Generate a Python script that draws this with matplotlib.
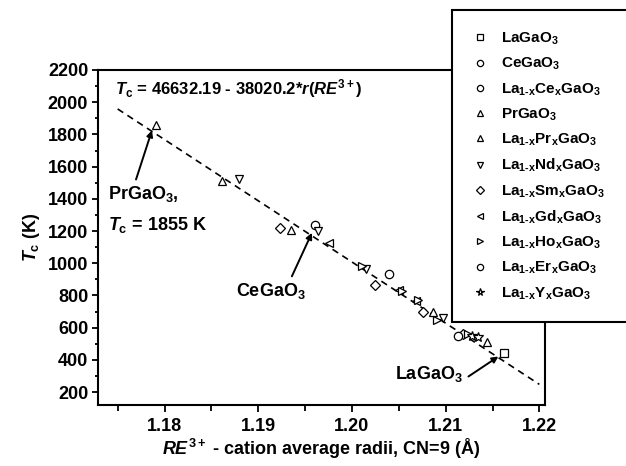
import matplotlib.pyplot as plt
from matplotlib.ticker import MultipleLocator

plt.rcParams['font.family'] = ['Liberation Sans', 'DejaVu Sans']
plt.rcParams['font.weight'] = 'bold'
plt.rcParams['axes.labelweight'] = 'bold'
plt.rcParams['mathtext.fontset'] = 'custom'
plt.rcParams['mathtext.rm'] = 'Liberation Sans:bold'
plt.rcParams['mathtext.it'] = 'Liberation Sans:italic:bold'
plt.rcParams['mathtext.bf'] = 'Liberation Sans:bold'

# values: radius (A), Tc (K)
la_r = [1.2162]
la_t = [443]
ce_r = [1.1961]
ce_t = [1240]
lace_r = [1.2040]
lace_t = [936]
pr_r = [1.1791]
pr_t = [1860]
lapr_r = [1.1861, 1.1935, 1.2086, 1.2144]
lapr_t = [1510, 1209, 697, 513]
land_r = [1.1880, 1.1964, 1.2015, 1.2097]
land_t = [1525, 1199, 965, 660]
lasm_r = [1.1923, 1.2025, 1.2076, 1.2118]
lasm_t = [1220, 867, 700, 563]
lagd_r = [1.1976, 1.2050, 1.2068]
lagd_t = [1127, 833, 768]
laho_r = [1.2011, 1.2053, 1.2071, 1.2091, 1.2124]
laho_t = [985, 826, 770, 650, 563]
laer_r = [1.2113]
laer_t = [550]
lay_r = [1.2128, 1.2134]
lay_t = [548, 541]

fit_r = [1.175, 1.220]
fit_t = [1958, 248]

sub = r'$_{\mathrm{1\text{-}x}}$'
subx = r'$_\mathrm{x}$'
series = [
    (la_r, la_t, 's', r'LaGaO$_3$'),
    (ce_r, ce_t, 'o', r'CeGaO$_3$'),
    (lace_r, lace_t, 'o', 'La' + sub + 'Ce' + subx + r'GaO$_3$'),
    (pr_r, pr_t, '^', r'PrGaO$_3$'),
    (lapr_r, lapr_t, '^', 'La' + sub + 'Pr' + subx + r'GaO$_3$'),
    (land_r, land_t, 'v', 'La' + sub + 'Nd' + subx + r'GaO$_3$'),
    (lasm_r, lasm_t, 'D', 'La' + sub + 'Sm' + subx + r'GaO$_3$'),
    (lagd_r, lagd_t, '<', 'La' + sub + 'Gd' + subx + r'GaO$_3$'),
    (laho_r, laho_t, '>', 'La' + sub + 'Ho' + subx + r'GaO$_3$'),
    (laer_r, laer_t, 'o', 'La' + sub + 'Er' + subx + r'GaO$_3$'),
    (lay_r, lay_t, '*', 'La' + sub + 'Y' + subx + r'GaO$_3$'),
]

fig = plt.figure(figsize=(6.26, 4.66), dpi=100)
ax = fig.add_axes([0.1565, 0.1309, 0.7141, 0.7189])

ax.plot(fit_r, fit_t, color='k', lw=1.2, ls=(0, (4, 3)), zorder=1)

handles = []
for r, t, m, lab in series:
    ms = 7.5 if m == '*' else (5 if m == 'D' else 6)
    h, = ax.plot(r, t, ls='none', marker=m, ms=ms, mfc='white', mec='k',
                 mew=0.9, label=lab, zorder=3)
    handles.append(h)

ax.set_xlim(1.1729, 1.2206)
ax.set_ylim(120, 2200)
ax.xaxis.set_major_locator(MultipleLocator(0.01))
ax.xaxis.set_minor_locator(MultipleLocator(0.005))
ax.yaxis.set_major_locator(MultipleLocator(200))
ax.yaxis.set_minor_locator(MultipleLocator(100))
ax.xaxis.set_major_formatter(plt.FuncFormatter(lambda v, p: '%.2f' % v))

for s in ax.spines.values():
    s.set_linewidth(1.5)
ax.tick_params(axis='both', which='both', direction='out', width=1.3,
               labelsize=13, top=False, right=False)
ax.tick_params(axis='x', which='major', length=5, pad=4)
ax.tick_params(axis='x', which='minor', length=4)
ax.tick_params(axis='y', which='major', length=4, pad=3)
ax.tick_params(axis='y', which='minor', length=2.5)

ax.set_xlabel(r'$RE^{3+}$ - cation average radii, CN=9 (Å)', fontsize=13,
              labelpad=2)
ax.set_ylabel(r'$T_\mathrm{c}$ (K)', fontsize=13, labelpad=4)

ax.text(1.1747, 2049, r'$T_\mathrm{c}$ = 46632.19 - 38020.2*$r$($RE^{3+}$)',
        fontsize=12, va='baseline', ha='left')

arr = dict(arrowstyle='-|>', color='k', lw=1.4, mutation_scale=9,
           shrinkA=0, shrinkB=0)
ax.annotate('', xy=(1.17866, 1825), xytext=(1.17696, 1520), arrowprops=arr)
ax.text(1.1740, 1396, r'PrGaO$_3$,', fontsize=13, va='baseline')
ax.text(1.1740, 1208, r'$T_\mathrm{c}$ = 1855 K', fontsize=13, va='baseline')

ax.annotate('', xy=(1.19573, 1189), xytext=(1.19359, 919), arrowprops=arr)
ax.text(1.18764, 799, r'CeGaO$_3$', fontsize=13, va='baseline')

ax.annotate('', xy=(1.21563, 421), xytext=(1.21243, 297), arrowprops=arr)
ax.text(1.20463, 283, r'LaGaO$_3$', fontsize=13, va='baseline')

leg = fig.legend(handles=handles, loc='upper left',
                 bbox_to_anchor=(452 / 626, 1 - 10 / 466, 0.35, 0.0),
                 mode='expand', fontsize=11, frameon=True, fancybox=False,
                 borderpad=1.35, handlelength=1.0, handletextpad=0.85,
                 labelspacing=0.58, markerscale=0.75, borderaxespad=0)
leg.get_frame().set_edgecolor('k')
leg.get_frame().set_linewidth(1.5)
leg.get_frame().set_alpha(1)

fig.savefig('out.png', dpi=100)
